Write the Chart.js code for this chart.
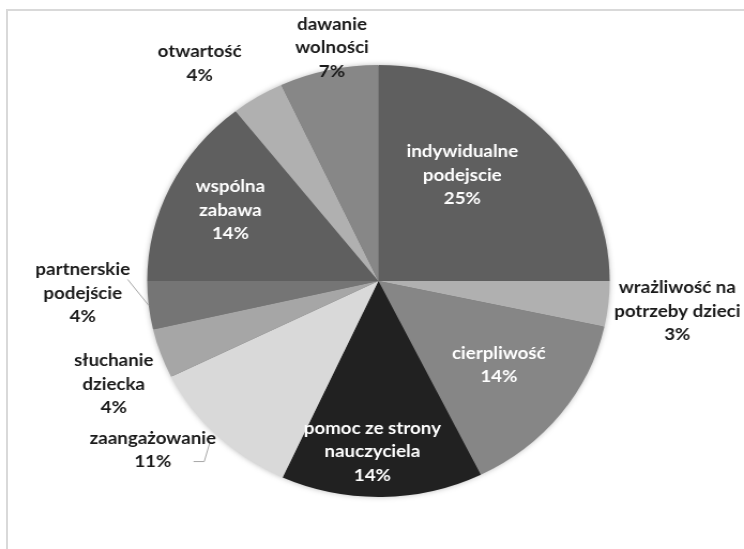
<!DOCTYPE html>
<html>
<head>
<meta charset="utf-8">
<script src="https://cdn.jsdelivr.net/npm/chart.js@4"></script>
<style>
  body { margin: 0; background: #fff; overflow: hidden; }
  .frame {
    position: absolute; left: 6px; top: 9px; width: 760px; height: 560px;
    border-top: 2px solid #d9d9d9; border-left: 2px solid #d9d9d9;
  }
  #chart { position: absolute; left: 0; top: 0; }
</style>
</head>
<body>
<div class="frame"></div>
<canvas id="chart" width="695" height="549" style="width:744px;height:549px"></canvas>
<script>
  // categories (each entry split into the lines shown on the chart)
  const categories = [
    ["indywidualne", "podejscie"],
    ["wrażliwość na", "potrzeby dzieci"],
    ["cierpliwość"],
    ["pomoc ze strony", "nauczyciela"],
    ["zaangażowanie"],
    ["słuchanie", "dziecka"],
    ["partnerskie", "podejście"],
    ["wspólna", "zabawa"],
    ["otwartość"],
    ["dawanie", "wolności"],
  ];

  // share of answers in %
  const values = [25, 3.4, 14.3, 14.1, 10.9, 3.7, 3.6, 14.4, 3.7, 6.9];

  const sliceColors = [
    "#5f5f5f", "#b0b0b0", "#868686", "#212121", "#d9d9d9",
    "#a6a6a6", "#757575", "#5f5f5f", "#b0b0b0", "#878787",
  ];
  const labelColors = [
    "#ffffff", "#1a1a1a", "#ffffff", "#ffffff", "#1a1a1a",
    "#1a1a1a", "#1a1a1a", "#ffffff", "#1a1a1a", "#1a1a1a",
  ];

  // label placement: shift from the slice middle (deg) and distance (x radius)
  const labelShift = [-8.5, 0, -1.2, 2.8, 7.2, -3, 4, 1.3, -6, 1.9];
  const labelRadius = [0.61, 1.30, 0.65, 0.79, 1.25, 1.24, 1.28, 0.72, 1.27, 1.10];
  const lineHeight = 23.5;

  const pieShadow = {
    id: "pieShadow",
    beforeDatasetsDraw(chart) {
      const arc = chart.getDatasetMeta(0).data[0];
      if (!arc) return;
      const ctx = chart.ctx;
      ctx.save();
      ctx.shadowColor = "rgba(0,0,0,0.35)";
      ctx.shadowBlur = 6;
      ctx.fillStyle = "#777";
      ctx.beginPath();
      ctx.arc(arc.x, arc.y, arc.outerRadius - 1, 0, Math.PI * 2);
      ctx.fill();
      ctx.restore();
    },
  };

  const sliceLabels = {
    id: "sliceLabels",
    afterDatasetsDraw(chart) {
      const ctx = chart.ctx;
      const meta = chart.getDatasetMeta(0);
      ctx.save();
      ctx.font = "bold 17.5px Lato";
      ctx.textAlign = "center";
      ctx.textBaseline = "middle";
      meta.data.forEach((arc, i) => {
        const p = arc.getProps(["x", "y", "startAngle", "endAngle", "outerRadius"], true);
        const midRaw = (p.startAngle + p.endAngle) / 2;
        const mid = midRaw + labelShift[i] * Math.PI / 180;
        const lx = p.x + Math.cos(mid) * p.outerRadius * labelRadius[i];
        const ly = p.y + Math.sin(mid) * p.outerRadius * labelRadius[i];
        const lines = [...categories[i], Math.round(values[i]) + "%"];
        const top = ly - (lines.length - 1) * lineHeight / 2;

        // leader lines for the two labels that sit away from their slice
        ctx.strokeStyle = "#a6a6a6";
        ctx.lineWidth = 1;
        if (i === 6) {
          const ex = p.x + Math.cos(midRaw) * p.outerRadius;
          const ey = p.y + Math.sin(midRaw) * p.outerRadius;
          ctx.beginPath();
          ctx.moveTo(lx + 42, top + 10);
          ctx.lineTo(ex, ey);
          ctx.stroke();
        }
        if (i === 4) {
          const ex = p.x + Math.cos(midRaw) * p.outerRadius * 1.05;
          const ey = p.y + Math.sin(midRaw) * p.outerRadius * 1.05;
          const by = top + lineHeight;
          ctx.beginPath();
          ctx.moveTo(lx + 38, by);
          ctx.lineTo(lx + 48, by);
          ctx.lineTo(ex, ey);
          ctx.stroke();
        }

        ctx.fillStyle = labelColors[i];
        lines.forEach((t, k) => ctx.fillText(t, lx, top + k * lineHeight));
      });
      ctx.restore();
    },
  };

  new Chart(document.getElementById("chart"), {
    type: "pie",
    data: {
      labels: categories.map(c => c.join(" ")),
      datasets: [{
        data: values,
        backgroundColor: sliceColors,
        borderWidth: 0,
      }],
    },
    options: {
      responsive: false,
      animation: false,
      layout: { padding: { left: 130, right: 118, top: 65, bottom: 52 } },
      plugins: {
        legend: { display: false },
        tooltip: { enabled: false },
      },
    },
    plugins: [pieShadow, sliceLabels],
  });
</script>
</body>
</html>
